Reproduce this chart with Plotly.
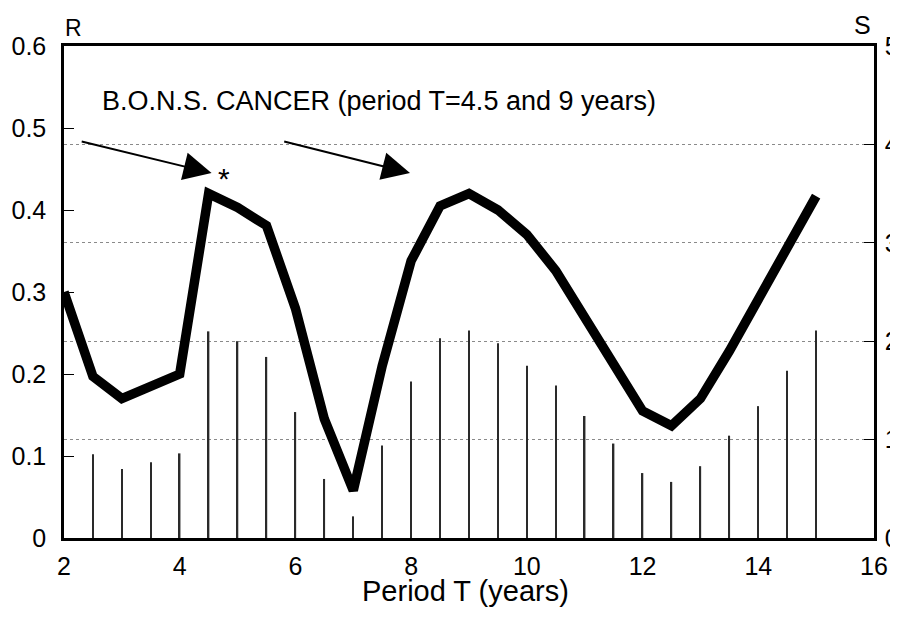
import plotly.graph_objects as go

# R (thick line) against period T
period_r = [2, 2.5, 3, 3.5, 4, 4.5, 5, 5.5, 6, 6.5, 7, 7.5, 8, 8.5, 9, 9.5,
            10, 10.5, 11, 11.5, 12, 12.5, 13, 13.5, 14, 14.5, 15]
r_vals = [0.30, 0.197, 0.170, 0.185, 0.200, 0.420, 0.403, 0.381, 0.28, 0.145,
          0.058, 0.21, 0.338, 0.405, 0.420, 0.400, 0.370, 0.326, 0.270, 0.212,
          0.155, 0.137, 0.170, 0.228, 0.290, 0.355, 0.417]

# S (thin vertical lines) against period T
period_s = [2.5, 3, 3.5, 4, 4.5, 5, 5.5, 6, 6.5, 7, 7.5, 8, 8.5, 9, 9.5,
            10, 10.5, 11, 11.5, 12, 12.5, 13, 13.5, 14, 14.5, 15]
s_vals = [0.85, 0.70, 0.77, 0.86, 2.10, 2.00, 1.84, 1.28, 0.60, 0.22, 0.94,
          1.59, 2.03, 2.11, 1.98, 1.75, 1.55, 1.24, 0.96, 0.66, 0.57, 0.73,
          1.04, 1.34, 1.70, 2.11]

x_ticks = [2, 4, 6, 8, 10, 12, 14, 16]
r_ticks = [0, 0.1, 0.2, 0.3, 0.4, 0.5, 0.6]
r_ticklabels = ["0", "0.1", "0.2", "0.3", "0.4", "0.5", "0.6"]
s_ticks = [0, 1, 2, 3, 4, 5]

FONT = "Liberation Sans, Arial, sans-serif"

fig = go.Figure()

fig.add_trace(go.Bar(
    x=period_s, y=s_vals, yaxis="y2", width=0.025,
    marker=dict(color="#2a2a2a", line=dict(width=0)),
    showlegend=False,
))

fig.add_trace(go.Scatter(
    x=period_r, y=r_vals, mode="lines",
    line=dict(color="black", width=9.5, shape="linear"),
    showlegend=False,
))

# page body has an 8px margin, so the figure is sized 890x602 (no scrolling)
fig.update_layout(
    width=890, height=602,
    margin=dict(l=56, r=24, t=38, b=72),
    plot_bgcolor="white", paper_bgcolor="white",
    font=dict(family=FONT, color="black", size=25),
    barmode="overlay",
    xaxis=dict(
        range=[2, 16], tickvals=x_ticks, showgrid=False, zeroline=False,
        showline=True, linecolor="black", linewidth=2.5, mirror=True,
        ticks="", tickfont=dict(size=25), automargin=False,
        ticklabelstandoff=4,
    ),
    yaxis=dict(
        range=[0, 0.6], tickvals=r_ticks, ticktext=r_ticklabels,
        showgrid=False, zeroline=False, automargin=False,
        showline=True, linecolor="black", linewidth=2.5,
        ticks="inside", ticklen=10, tickcolor="black",
        tickfont=dict(size=25), ticklabelstandoff=10,
    ),
    yaxis2=dict(
        range=[0, 5], tickvals=s_ticks, overlaying="y", side="right",
        showgrid=True, gridcolor="#8a8a8a", griddash="dot", gridwidth=1,
        zeroline=False, showline=True, linecolor="black", linewidth=2.5,
        ticks="inside", ticklen=10, tickcolor="black", automargin=False,
        tickfont=dict(size=25), ticklabelstandoff=3,
    ),
)

# x-axis title placed as an annotation, kept inside the figure's bottom edge
fig.add_annotation(text="Period T (years)", xref="paper", yref="paper",
                   x=0.5, y=0, xanchor="center", yanchor="bottom",
                   xshift=-4, yshift=-71, showarrow=False,
                   font=dict(size=29))

# axis letters
fig.add_annotation(text="R", xref="paper", yref="paper", x=0, y=1,
                   xanchor="left", yanchor="bottom", yshift=3, xshift=-1,
                   showarrow=False, font=dict(size=23))
fig.add_annotation(text="S", xref="paper", yref="paper", x=1, y=1,
                   xanchor="right", yanchor="bottom", yshift=5, xshift=-1,
                   showarrow=False, font=dict(size=25))

fig.add_annotation(text="B.O.N.S. CANCER (period T=4.5 and 9 years)",
                   x=2.62, y=0.533, xanchor="left", yanchor="middle",
                   showarrow=False, font=dict(size=27))

# arrows pointing at the two peaks
for head_x, tail_x in [(4.55, 2.28), (7.98, 5.78)]:
    fig.add_annotation(x=head_x, y=0.445, ax=tail_x, ay=0.484,
                       xref="x", yref="y", axref="x", ayref="y",
                       text="", showarrow=True, arrowhead=2,
                       arrowsize=2.8, arrowwidth=2, arrowcolor="black")

fig.add_annotation(text="*", x=4.62, y=0.438, xanchor="left", yanchor="middle",
                   showarrow=False, font=dict(size=30))

fig.write_html("out.html")
